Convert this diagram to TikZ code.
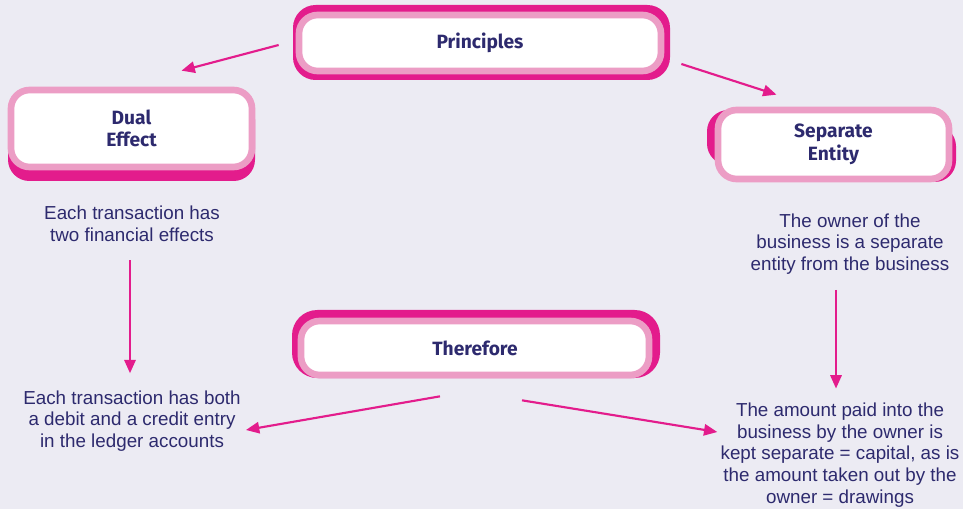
\documentclass[tikz,border=0pt]{standalone}
\usepackage{fontspec}
\setmainfont{Liberation Sans}
\newfontfamily\boxfont{Fira Sans}
\usetikzlibrary{arrows.meta,calc}
\definecolor{bgc}{HTML}{ECEBF3}
\definecolor{mag}{HTML}{E31C8C}
\definecolor{pinkr}{HTML}{EC9DC5}
\definecolor{navy}{HTML}{2D2A6E}
\tikzset{
  backing/.style={fill=mag},
  boxnode/.style={draw=pinkr, line width=5pt, fill=white, rounded corners=14pt,
    inner sep=0pt, align=center, text=navy, font=\boxfont\bfseries\fontsize{14.4}{17}\selectfont},
  txt/.style={align=center, text=navy, inner sep=0pt, font=\fontsize{14.1}{16.3}\selectfont},
  arr/.style={draw=mag, line width=1.6pt, -{Triangle[length=10pt,width=8.5pt]}}
}
\begin{document}
\begin{tikzpicture}[x=0.75pt,y=-0.75pt]
\fill[bgc] (0,0) rectangle (963,509);
\useasboundingbox (0,0) rectangle (963,509);
% magenta backings
\fill[backing, rounded corners=17pt] (293,5) rectangle (670,80);
\fill[backing, rounded corners=16pt] (8,98) rectangle (255,181);
\fill[backing, rounded corners=16pt] (707,110) rectangle (880,165);
\fill[backing, rounded corners=16pt] (780,125) rectangle (956,182);
\fill[backing, rounded corners=19pt] (292,310) rectangle (660,378);
% boxes
\node[boxnode, minimum width=362*0.75pt, minimum height=56*0.75pt] (prin) at (480,43) {Principles};
\node[boxnode, minimum width=241*0.75pt, minimum height=77*0.75pt] (dual) at (131.5,128.5) {Dual\\Effect};
\node[boxnode, minimum width=231*0.75pt, minimum height=69*0.75pt] (sep) at (833.5,144.5) {Separate\\Entity};
\node[boxnode, minimum width=348*0.75pt, minimum height=54*0.75pt] (ther) at (475,348) {Therefore};
% texts
\node[txt] (dualtxt) at (132,224) {Each transaction has\\two financial effects};
\node[txt] (septxt) at (850,244) {The owner of the\\business is a separate\\entity from the business};
\node[txt] (debtxt) at (132,421) {Each transaction has both\\a debit and a credit entry\\in the ledger accounts};
\node[txt] (captxt) at (840,455) {The amount paid into the\\business by the owner is\\kept separate = capital, as is\\the amount taken out by the\\owner = drawings};
% arrows
\draw[arr] ($(prin.west)+(-17,2)$) -- ($(dual.north)+(50,-16)$);
\draw[arr] ($(prin.east)+(17,21)$) -- ($(sep.north)+(-57,-12)$);
\draw[arr] ($(dualtxt.south)+(-2,18)$) -- ($(debtxt.north)+(-2,-17)$);
\draw[arr] ($(septxt.south)+(-14,15)$) -- ($(captxt.north)+(-4,-14)$);
\draw[arr] ($(ther.south)+(-35,18)$) -- ($(debtxt.east)+(5,9)$);
\draw[arr] ($(ther.south)+(47,22)$) -- ($(captxt.west)+(-3,-23)$);
\end{tikzpicture}
\end{document}
